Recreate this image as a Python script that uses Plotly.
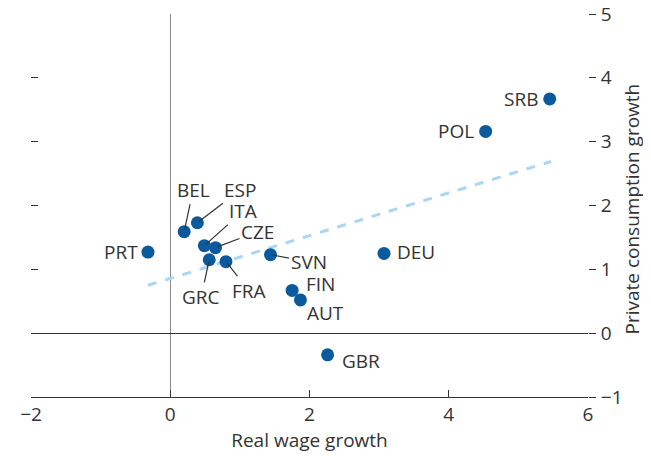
import plotly.graph_objects as go

countries = ["SRB", "POL", "DEU", "SVN", "FIN", "AUT", "GBR", "PRT",
             "BEL", "ESP", "ITA", "CZE", "GRC", "FRA"]
wage_growth = [5.45, 4.53, 3.07, 1.44, 1.75, 1.87, 2.26, -0.32,
               0.20, 0.39, 0.49, 0.65, 0.56, 0.80]
consumption_growth = [3.67, 3.16, 1.25, 1.23, 0.67, 0.52, -0.34, 1.27,
                      1.59, 1.73, 1.37, 1.34, 1.15, 1.12]

trend_x = [-0.32, 5.47]
trend_y = [0.75, 2.69]

x_ticks = [-2, 0, 2, 4, 6]
y_ticks = [-1, 0, 1, 2, 3, 4, 5]

FONT = "Open Sans"
FS = 19
TXT = "#333333"
BLUE = "#0b5a9e"

fig = go.Figure()
fig.add_trace(go.Scatter(x=trend_x, y=trend_y, mode="lines",
                         line=dict(color="#a9d6f3", width=3, dash="dash"),
                         hoverinfo="skip", showlegend=False))
fig.add_trace(go.Scatter(x=wage_growth, y=consumption_growth, mode="markers",
                         marker=dict(color=BLUE, size=13, line=dict(width=0)),
                         text=countries, showlegend=False))

label_pos = {
    "SRB": ("txt", "right", -10, 0),
    "POL": ("txt", "right", -10, 0),
    "DEU": ("txt", "left", 11, 1),
    "FIN": ("txt", "left", 12, 6),
    "AUT": ("txt", "left", 5, -13),
    "GBR": ("txt", "left", 12, -6),
    "PRT": ("txt", "right", -8, 0),
    "SVN": ("arr", 38, 7),
    "BEL": ("arr", 9, -42),
    "ESP": ("arr", 43, -33),
    "ITA": ("arr", 39, -35),
    "CZE": ("arr", 42, -16),
    "GRC": ("arr", -8, 37),
    "FRA": ("arr", 23, 29),
}

annotations = []
for c, xv, yv in zip(countries, wage_growth, consumption_growth):
    p = label_pos[c]
    if p[0] == "txt":
        annotations.append(dict(x=xv, y=yv, xref="x", yref="y", text=c,
                                showarrow=False, xanchor=p[1], yanchor="middle",
                                xshift=p[2], yshift=p[3],
                                font=dict(family=FONT, size=FS, color=TXT)))
    else:
        annotations.append(dict(x=xv, y=yv, xref="x", yref="y", text=c,
                                showarrow=True, arrowhead=0, arrowwidth=1.2,
                                arrowcolor=TXT, ax=p[1], ay=p[2], standoff=2,
                                font=dict(family=FONT, size=FS, color=TXT)))

# right-hand axis title
annotations.append(dict(x=1, y=0.5, xref="paper", yref="paper",
                        text="Private consumption growth", textangle=-90,
                        showarrow=False, xanchor="center", yanchor="middle",
                        xshift=43, yshift=-4,
                        font=dict(family=FONT, size=FS, color=TXT)))

fig.update_layout(
    width=643, height=448,
    margin=dict(l=23, r=63, t=6, b=59, autoexpand=False),
    paper_bgcolor="white", plot_bgcolor="white",
    font=dict(family=FONT, size=FS, color=TXT),
    annotations=annotations,
    xaxis=dict(range=[-2, 6], tickvals=x_ticks, showgrid=False, automargin=False,
               zeroline=True, zerolinecolor="#8a8a8a", zerolinewidth=1.2,
               showline=True, linecolor=TXT, linewidth=1.2,
               ticks="inside", ticklen=7, tickcolor=TXT, tickwidth=1.2,
               ticklabeloverflow="allow",
               tickfont=dict(family=FONT, size=FS, color=TXT),
               title=dict(text="Real wage growth", standoff=1,
                          font=dict(family=FONT, size=FS, color=TXT))),
    yaxis=dict(range=[-1, 5], tickvals=y_ticks, side="right", showgrid=False,
               automargin=False,
               zeroline=True, zerolinecolor=TXT, zerolinewidth=1.2,
               showline=False, ticks="outside", ticklen=7, tickcolor=TXT,
               tickwidth=1.2, ticklabelstandoff=1, ticklabeloverflow="allow",
               tickfont=dict(family=FONT, size=FS, color=TXT)),
    yaxis2=dict(range=[-1, 5], tickvals=y_ticks, overlaying="y", side="left",
                matches="y", showgrid=False, zeroline=False, showline=False,
                automargin=False,
                ticks="inside", ticklen=7, tickcolor=TXT, tickwidth=1.2,
                showticklabels=False),
)
fig.add_trace(go.Scatter(x=[None], y=[None], yaxis="y2", showlegend=False,
                         hoverinfo="skip"))

fig.write_html("out.html")
